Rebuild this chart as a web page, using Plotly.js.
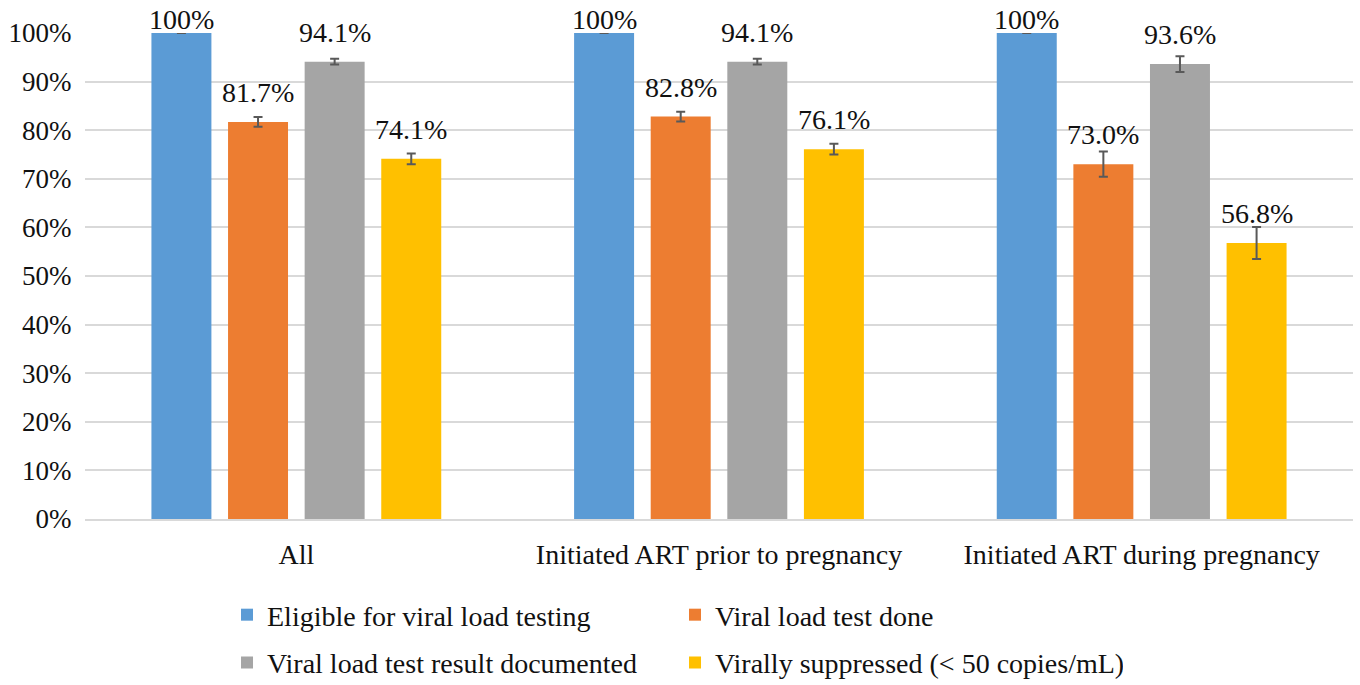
<!DOCTYPE html>
<html>
<head>
<meta charset="utf-8">
<script src="https://cdn.plot.ly/plotly-3.0.1.min.js"></script>
<style>html,body{margin:0;padding:0;background:#fff;}#chart{width:1360px;height:685px;}</style>
</head>
<body>
<div id="chart"></div>
<script>
const categories = ['All', 'Initiated ART prior to pregnancy', 'Initiated ART during pregnancy'];
const seriesNames = ['Eligible for viral load testing', 'Viral load test done', 'Viral load test result documented', 'Virally suppressed (< 50 copies/mL)'];
const eligible   = [100, 100, 100];
const testDone   = [81.7, 82.8, 73.0];
const documented = [94.1, 94.1, 93.6];
const suppressed = [74.1, 76.1, 56.8];
const errEligible   = [0, 0, 0];
const errTestDone   = [1.0, 1.0, 2.6];
const errDocumented = [0.6, 0.6, 1.6];
const errSuppressed = [1.1, 1.1, 3.3];
const yTicks = [0,10,20,30,40,50,60,70,80,90,100];

const colors = ['#5B9BD5', '#ED7D31', '#A5A5A5', '#FFC000'];
const values = [eligible, testDone, documented, suppressed];
const errors = [errEligible, errTestDone, errDocumented, errSuppressed];
const FONT = 'Liberation Serif';
const TXT = '#111111';
const bargap = 0.275;

const traces = values.map((v, j) => ({
  type: 'bar',
  name: seriesNames[j],
  x: categories,
  y: v,
  marker: {color: colors[j]},
  error_y: {type: 'data', array: errors[j], visible: true, color: '#595959', thickness: 2, width: 4.5},
  legend: j < 2 ? 'legend' : 'legend2',
  hoverinfo: 'x+y+name'
}));

const fmt = v => (v === 100 ? '100%' : v.toFixed(1) + '%');
const annotations = [];
values.forEach((v, j) => {
  v.forEach((val, i) => {
    annotations.push({
      x: i + (j - 1.5) * (1 - bargap) / 4,
      y: val,
      xref: 'x', yref: 'y',
      text: fmt(val),
      showarrow: false,
      yanchor: 'bottom',
      yshift: val >= 100 ? -4 : 12,
      font: {family: FONT, size: 28, color: TXT}
    });
  });
});

const layout = {
  width: 1360, height: 685,
  margin: {l: 85, r: 7, t: 33, b: 166, autoexpand: false},
  paper_bgcolor: '#fff', plot_bgcolor: '#fff',
  barmode: 'group',
  bargap: bargap,
  bargroupgap: 0.217,
  font: {family: FONT, color: TXT},
  xaxis: {
    type: 'category',
    showgrid: false,
    showline: true, linecolor: '#D9D9D9', linewidth: 2,
    ticks: 'outside', ticklen: 9, tickcolor: 'rgba(0,0,0,0)',
    tickfont: {family: FONT, size: 28, color: TXT}
  },
  yaxis: {
    range: [0, 100],
    tickvals: yTicks,
    ticktext: yTicks.map(t => t + '%'),
    showgrid: true, gridcolor: '#D9D9D9', gridwidth: 2,
    zeroline: false,
    ticks: 'outside', ticklen: 7, tickcolor: 'rgba(0,0,0,0)',
    tickfont: {family: FONT, size: 27, color: TXT}
  },
  showlegend: true,
  legend: {
    orientation: 'h', x: 0.112, y: -0.1975, xanchor: 'left', yanchor: 'middle',
    entrywidth: 403, entrywidthmode: 'pixels',
    font: {family: FONT, size: 28, color: TXT}, traceorder: 'normal'
  },
  legend2: {
    orientation: 'h', x: 0.112, y: -0.296, xanchor: 'left', yanchor: 'middle',
    entrywidth: 403, entrywidthmode: 'pixels',
    font: {family: FONT, size: 28, color: TXT}, traceorder: 'normal'
  },
  annotations: annotations
};

Plotly.newPlot('chart', traces, layout, {displayModeBar: false, staticPlot: true});
</script>
</body>
</html>
